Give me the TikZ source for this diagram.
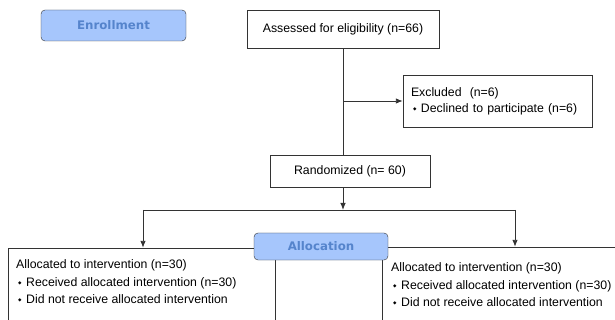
\documentclass[tikz,border=0pt]{standalone}
\usepackage{fontspec}
\setmainfont{Liberation Sans}
\newfontfamily\headfont{DejaVu Sans}
\usetikzlibrary{arrows.meta, positioning}
\definecolor{headfill}{HTML}{A6C6FC}
\definecolor{headtext}{HTML}{5584CC}
\definecolor{linegray}{HTML}{333333}
\newcommand{\bul}{\hspace{2pt}{\headfont\fontsize{4.5}{5}\selectfont\raisebox{1.8pt}{◆}}\hspace{4.5pt}}

\begin{document}
\begin{tikzpicture}[x=1pt, y=-1pt,
        head/.style={
            draw=linegray,
            fill=headfill,
            rounded corners=4pt,
            text=headtext,
            inner sep=0pt,
            font=\headfont\bfseries\fontsize{11.8}{12}\selectfont
        },
        box/.style={
            draw=linegray,
            fill=white,
            inner sep=0pt,
            font=\fontsize{12.3}{14}\selectfont
        },
        txt/.style={
            inner sep=0pt,
            anchor=north west,
            align=left,
            font=\fontsize{12.3}{17.5}\selectfont
        },
        ln/.style={linegray, line width=0.9pt},
        arr/.style={ln, -{Latex[length=7pt, width=5.5pt]}}
    ]
        \clip (0,0) rectangle (615,320);

        % Enrollment
        \node[head, minimum width=145pt, minimum height=31pt] (enroll) at (113.5,25.5) {Enrollment};
        \node[box, minimum width=192pt, minimum height=38pt] (assess) at (343,29) {Assessed for eligibility (n=66)};
        \node[box, minimum width=189pt, minimum height=52pt, text width=173pt,
              inner xsep=8pt, align=left, font=\fontsize{12.3}{16}\selectfont] (excl) at (497.5,101)
              {Excluded\ \ (n=6)\\\bul Declined to participate (n=6)};
        \node[box, minimum width=160pt, minimum height=32pt] (rand) at (350,171) {Randomized (n= 60)};

        \draw[ln] (assess.south) -- (assess.south |- rand.north);
        \draw[arr] (assess.south |- excl.west) -- (excl.west);

        % Allocation
        \coordinate (split) at (343,210);
        \coordinate (splitL) at (143,210);
        \coordinate (splitR) at (515,210);
        \node[box, minimum width=267pt, minimum height=90pt] (leftbox) at (141.5,293) {};
        \node[box, minimum width=248pt, minimum height=90pt] (rightbox) at (506,292) {};
        \node[head, minimum width=134pt, minimum height=27pt] (alloc) at (321,246.5) {Allocation};

        \draw[arr] (rand.south -| split) -- (split);
        \draw[ln] (splitL) -- (splitR);
        \draw[arr] (splitL) -- (splitL |- leftbox.north);
        \draw[arr] (splitR) -- (splitR |- rightbox.north);

        \node[txt] (lefttxt) at (16,259.5) {Allocated to intervention (n=30)\\
            \bul Received\ allocated intervention (n=30)\\
            \bul Did not receive\ allocated intervention};
        \node[txt] (righttxt) at (391,262.5) {Allocated to intervention (n=30)\\
            \bul Received\ allocated intervention (n=30)\\
            \bul Did not receive\ allocated intervention};
    \end{tikzpicture}
\end{document}
